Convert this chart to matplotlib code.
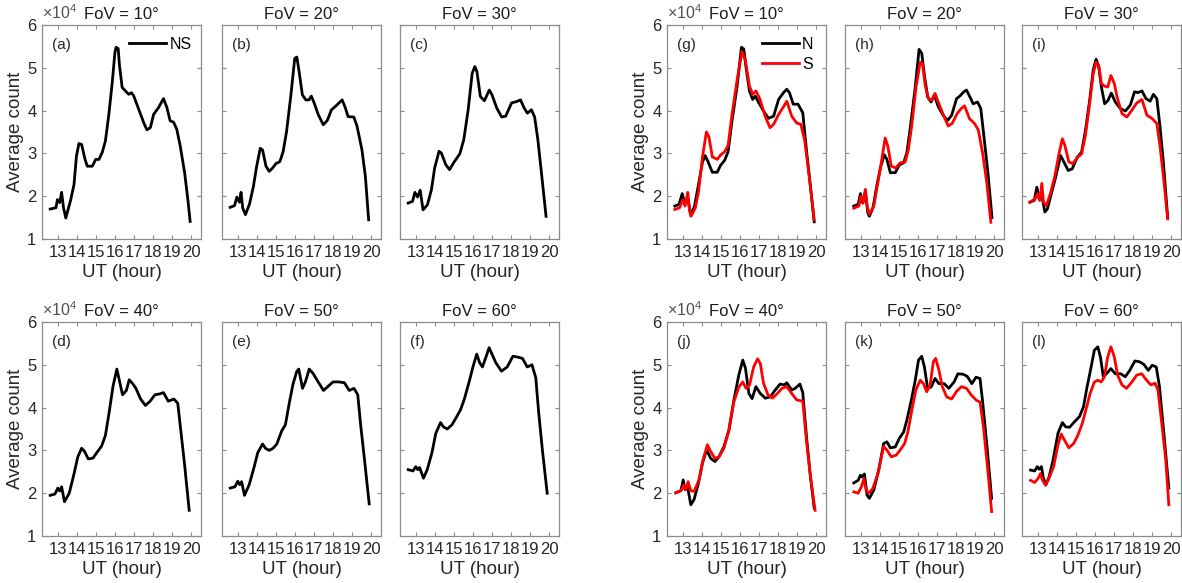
import matplotlib.pyplot as plt
from matplotlib import font_manager

plt.rcParams['font.family'] = ['Liberation Sans', 'DejaVu Sans']
plt.rcParams['mathtext.fontset'] = 'custom'
plt.rcParams['mathtext.rm'] = 'Liberation Sans'

# narrow face for tick labels if present
names = {f.name for f in font_manager.fontManager.ttflist}
NARROW = 'Liberation Sans Narrow' if 'Liberation Sans Narrow' in names else 'Liberation Sans'

fov = [10, 20, 30, 40, 50, 60]
letters_ns = ['a', 'b', 'c', 'd', 'e', 'f']
letters_sep = ['g', 'h', 'i', 'j', 'k', 'l']
x_ticks = [13, 14, 15, 16, 17, 18, 19, 20]
y_ticks = [1, 2, 3, 4, 5, 6]

# ---- combined NS curves (units of 1e4) ----
ut_a = [12.6, 12.9, 12.98, 13.1, 13.2, 13.3, 13.42, 13.68, 13.85, 13.98, 14.11, 14.25, 14.43, 14.55, 14.81,
        14.99, 15.16, 15.33, 15.5, 15.68, 15.86, 16.0, 16.06, 16.17, 16.24, 16.38, 16.55, 16.73, 16.87, 16.99,
        17.25, 17.51, 17.68, 17.86, 18.03, 18.29, 18.55, 18.73, 18.9, 19.08, 19.25, 19.43, 19.66, 19.83, 19.95]
ns_a = [1.70, 1.73, 1.92, 1.85, 2.09, 1.73, 1.49, 1.92, 2.27, 2.94, 3.23, 3.21, 2.86, 2.70, 2.70,
        2.86, 2.86, 3.02, 3.29, 3.91, 4.66, 5.36, 5.48, 5.45, 5.05, 4.54, 4.46, 4.38, 4.42, 4.34,
        4.03, 3.72, 3.55, 3.60, 3.91, 4.07, 4.28, 4.07, 3.76, 3.73, 3.56, 3.17, 2.55, 1.92, 1.41]

ut_b = [12.6, 12.83, 12.95, 13.09, 13.17, 13.26, 13.4, 13.61, 13.82, 13.99, 14.18, 14.3, 14.48, 14.65, 14.83,
        15.0, 15.21, 15.38, 15.56, 15.78, 15.99, 16.1, 16.22, 16.39, 16.57, 16.74, 16.86, 17.0, 17.23, 17.49,
        17.7, 17.92, 18.13, 18.48, 18.65, 18.79, 19.09, 19.26, 19.52, 19.7, 19.87]
ns_b = [1.74, 1.78, 1.98, 1.86, 2.09, 1.72, 1.57, 1.81, 2.23, 2.70, 3.12, 3.08, 2.70, 2.58, 2.66,
        2.76, 2.81, 3.04, 3.51, 4.33, 5.22, 5.25, 4.91, 4.37, 4.25, 4.25, 4.34, 4.19, 3.90, 3.67,
        3.77, 4.02, 4.10, 4.25, 4.06, 3.86, 3.85, 3.64, 3.08, 2.46, 1.45]

ut_c = [12.6, 12.83, 12.95, 13.09, 13.23, 13.38, 13.61, 13.82, 13.99, 14.22, 14.34, 14.57, 14.77, 15.0, 15.31,
        15.52, 15.75, 15.96, 16.1, 16.21, 16.39, 16.6, 16.86, 17.0, 17.25, 17.51, 17.72, 18.03, 18.29, 18.5,
        18.69, 18.86, 19.07, 19.24, 19.41, 19.58, 19.84]
ns_c = [1.84, 1.88, 2.09, 1.98, 2.14, 1.68, 1.80, 2.15, 2.66, 3.05, 3.01, 2.74, 2.62, 2.79, 2.99,
        3.32, 4.02, 4.87, 5.03, 4.91, 4.33, 4.23, 4.48, 4.37, 4.06, 3.85, 3.87, 4.18, 4.21, 4.25,
        4.06, 3.94, 4.02, 3.85, 3.32, 2.62, 1.53]

ut_d = [12.6, 12.85, 13.0, 13.1, 13.2, 13.35, 13.6, 13.85, 14.05, 14.25, 14.4, 14.6, 14.85, 15.05, 15.3,
        15.5, 15.7, 15.9, 16.1, 16.25, 16.4, 16.6, 16.75, 16.95, 17.1, 17.35, 17.6, 17.85, 18.1, 18.35,
        18.55, 18.8, 19.1, 19.3, 19.45, 19.65, 19.9]
ns_d = [1.95, 1.98, 2.12, 2.05, 2.15, 1.80, 2.0, 2.45, 2.85, 3.05, 2.98, 2.80, 2.82, 2.95, 3.10,
        3.35, 3.90, 4.50, 4.90, 4.60, 4.30, 4.40, 4.65, 4.55, 4.45, 4.20, 4.05, 4.15, 4.30, 4.32,
        4.35, 4.15, 4.20, 4.10, 3.50, 2.70, 1.60]

ut_e = [12.6, 12.85, 13.0, 13.1, 13.2, 13.35, 13.6, 13.85, 14.05, 14.3, 14.45, 14.65, 14.85, 15.05, 15.3,
        15.5, 15.7, 15.9, 16.1, 16.2, 16.4, 16.55, 16.75, 16.95, 17.15, 17.5, 17.75, 18.0, 18.3, 18.6,
        18.85, 19.1, 19.3, 19.45, 19.65, 19.9]
ns_e = [2.12, 2.15, 2.28, 2.20, 2.27, 1.95, 2.20, 2.60, 2.95, 3.15, 3.05, 3.00, 3.05, 3.15, 3.45,
        3.60, 4.10, 4.55, 4.85, 4.90, 4.45, 4.60, 4.90, 4.80, 4.65, 4.40, 4.50, 4.60, 4.60, 4.58,
        4.40, 4.45, 4.30, 3.60, 2.80, 1.75]

ut_f = [12.6, 12.85, 13.0, 13.1, 13.2, 13.4, 13.6, 13.85, 14.05, 14.3, 14.45, 14.65, 14.9, 15.1, 15.35,
        15.55, 15.8, 16.0, 16.2, 16.35, 16.5, 16.7, 16.85, 17.0, 17.2, 17.5, 17.8, 18.1, 18.35, 18.6,
        18.85, 19.1, 19.3, 19.45, 19.65, 19.9]
ns_f = [2.55, 2.52, 2.62, 2.55, 2.60, 2.35, 2.55, 2.95, 3.40, 3.65, 3.55, 3.50, 3.60, 3.75, 3.95,
        4.20, 4.60, 4.95, 5.25, 5.05, 4.95, 5.20, 5.40, 5.25, 5.05, 4.85, 4.95, 5.20, 5.18, 5.15,
        4.95, 5.00, 4.70, 3.90, 3.00, 2.00]

# ---- separate N / S curves (units of 1e4) ----
ut_g_n = [12.58, 12.8, 12.97, 13.09, 13.26, 13.4, 13.6, 13.8, 14.03, 14.17, 14.34, 14.55, 14.81, 14.98, 15.2,
          15.38, 15.59, 15.85, 16.08, 16.2, 16.32, 16.5, 16.67, 16.81, 16.98, 17.24, 17.5, 17.77, 18.03, 18.29,
          18.46, 18.6, 18.8, 19.05, 19.3, 19.5, 19.7, 19.9]
n_g = [1.77, 1.81, 2.06, 1.85, 1.97, 1.58, 1.74, 2.21, 2.79, 2.95, 2.79, 2.56, 2.56, 2.72, 2.84,
       3.04, 3.78, 4.56, 5.48, 5.44, 5.01, 4.46, 4.26, 4.34, 4.19, 3.99, 3.82, 3.87, 4.26, 4.42,
       4.50, 4.42, 4.15, 4.15, 3.95, 3.05, 2.25, 1.40]
ut_g_s = [12.58, 12.83, 13.0, 13.12, 13.26, 13.35, 13.43, 13.66, 13.83, 14.03, 14.24, 14.37, 14.55, 14.81, 14.98,
          15.2, 15.38, 15.59, 15.85, 16.11, 16.28, 16.5, 16.67, 16.84, 17.06, 17.32, 17.58, 17.77, 18.03, 18.29,
          18.46, 18.72, 18.98, 19.2, 19.4, 19.6, 19.9]
s_g = [1.69, 1.73, 1.92, 1.77, 2.09, 1.69, 1.53, 1.73, 2.12, 2.91, 3.50, 3.39, 2.92, 2.86, 2.96,
       3.04, 3.19, 3.93, 4.71, 5.38, 5.19, 4.57, 4.38, 4.46, 4.26, 3.87, 3.60, 3.68, 3.91, 4.09,
       4.22, 3.87, 3.71, 3.68, 3.30, 2.60, 1.45]

ut_h_n = [12.63, 12.86, 12.98, 13.1, 13.24, 13.37, 13.45, 13.64, 13.85, 14.03, 14.23, 14.37, 14.55, 14.81, 15.02,
          15.25, 15.42, 15.6, 15.86, 16.06, 16.2, 16.34, 16.51, 16.69, 16.86, 17.07, 17.33, 17.56, 17.77, 18.03,
          18.2, 18.41, 18.55, 18.73, 18.9, 19.13, 19.3, 19.47, 19.68, 19.89]
n_h = [1.77, 1.81, 2.06, 1.84, 2.11, 1.61, 1.53, 1.73, 2.27, 2.66, 2.97, 2.86, 2.55, 2.55, 2.73,
       2.78, 3.02, 3.61, 4.55, 5.43, 5.34, 4.83, 4.32, 4.20, 4.36, 4.09, 3.89, 3.77, 3.89, 4.28,
       4.34, 4.44, 4.48, 4.32, 4.16, 4.20, 4.05, 3.38, 2.53, 1.50]
ut_h_s = [12.63, 12.9, 13.0, 13.12, 13.24, 13.33, 13.45, 13.68, 13.85, 14.03, 14.28, 14.42, 14.6, 14.84, 15.07,
          15.33, 15.5, 15.68, 15.9, 16.12, 16.24, 16.38, 16.55, 16.72, 16.9, 17.1, 17.38, 17.59, 17.8, 18.07,
          18.28, 18.45, 18.71, 18.97, 19.17, 19.4, 19.62, 19.83]
s_h = [1.72, 1.77, 2.00, 1.84, 2.16, 1.77, 1.58, 1.77, 2.20, 2.66, 3.36, 3.17, 2.70, 2.66, 2.78,
       2.80, 3.09, 3.67, 4.55, 5.13, 5.10, 4.59, 4.28, 4.24, 4.40, 4.16, 3.85, 3.64, 3.70, 3.94,
       4.05, 4.11, 3.81, 3.70, 3.55, 3.00, 2.30, 1.39]

ut_i_n = [12.58, 12.81, 12.95, 13.07, 13.19, 13.37, 13.5, 13.73, 13.94, 14.2, 14.37, 14.6, 14.81, 15.07, 15.3,
          15.5, 15.72, 15.91, 16.06, 16.2, 16.34, 16.51, 16.69, 16.86, 17.07, 17.33, 17.6, 17.86, 18.08, 18.26,
          18.47, 18.68, 18.9, 19.07, 19.25, 19.42, 19.6, 19.82]
n_i = [1.86, 1.90, 2.21, 1.94, 2.06, 1.63, 1.70, 2.09, 2.45, 2.95, 2.80, 2.60, 2.64, 2.91, 3.03,
       3.53, 4.23, 4.95, 5.20, 5.02, 4.55, 4.16, 4.24, 4.41, 4.20, 4.05, 3.99, 4.13, 4.44, 4.42,
       4.46, 4.28, 4.22, 4.38, 4.28, 3.62, 2.76, 1.51]
ut_i_s = [12.58, 12.86, 12.98, 13.1, 13.21, 13.3, 13.45, 13.68, 13.9, 14.11, 14.29, 14.42, 14.63, 14.84, 15.07,
          15.3, 15.5, 15.72, 15.91, 16.06, 16.2, 16.34, 16.51, 16.67, 16.84, 17.02, 17.16, 17.42, 17.68, 17.94,
          18.2, 18.47, 18.73, 18.99, 19.25, 19.42, 19.6, 19.82]
s_i = [1.86, 1.94, 2.06, 1.90, 2.30, 1.86, 1.78, 2.09, 2.48, 2.99, 3.34, 3.19, 2.80, 2.76, 2.90,
       2.99, 3.42, 4.16, 4.86, 5.13, 5.06, 4.63, 4.57, 4.55, 4.82, 4.63, 4.32, 3.93, 3.85, 4.01,
       4.18, 4.26, 3.89, 3.82, 3.70, 3.16, 2.45, 1.47]

ut_j_n = [12.63, 12.9, 13.02, 13.12, 13.24, 13.42, 13.59, 13.82, 14.03, 14.25, 14.47, 14.69, 14.9, 15.16, 15.42,
          15.68, 15.94, 16.15, 16.29, 16.47, 16.64, 16.84, 17.07, 17.33, 17.59, 17.85, 18.11, 18.34, 18.46, 18.72,
          18.9, 19.15, 19.3, 19.5, 19.7, 19.9]
n_j = [2.01, 2.06, 2.31, 2.08, 2.17, 1.73, 1.85, 2.23, 2.70, 3.01, 2.81, 2.74, 2.85, 3.09, 3.47,
       4.17, 4.76, 5.11, 4.92, 4.33, 4.21, 4.49, 4.33, 4.22, 4.25, 4.41, 4.55, 4.53, 4.58, 4.41,
       4.45, 4.55, 4.35, 3.30, 2.40, 1.65]
ut_j_s = [12.63, 12.9, 13.07, 13.16, 13.28, 13.42, 13.59, 13.85, 14.06, 14.29, 14.47, 14.69, 14.9, 15.16, 15.42,
          15.68, 15.94, 16.15, 16.32, 16.5, 16.72, 16.93, 17.07, 17.24, 17.47, 17.71, 17.99, 18.2, 18.46, 18.72,
          18.98, 19.3, 19.5, 19.7, 19.95]
s_j = [2.01, 2.06, 2.19, 2.08, 2.27, 2.06, 2.04, 2.31, 2.78, 3.13, 2.97, 2.81, 2.85, 3.05, 3.47,
       4.13, 4.48, 4.60, 4.45, 4.52, 4.95, 5.14, 5.03, 4.57, 4.30, 4.22, 4.34, 4.45, 4.49, 4.33,
       4.18, 4.15, 3.20, 2.40, 1.60]

ut_k_n = [12.63, 12.86, 12.98, 13.07, 13.19, 13.33, 13.45, 13.68, 13.94, 14.2, 14.37, 14.55, 14.81, 15.02, 15.25,
          15.42, 15.65, 15.86, 16.03, 16.2, 16.34, 16.51, 16.69, 16.9, 17.1, 17.38, 17.62, 17.9, 18.1, 18.37,
          18.59, 18.83, 19.05, 19.26, 19.4, 19.63, 19.87]
n_k = [2.24, 2.30, 2.42, 2.38, 2.45, 1.95, 1.88, 2.07, 2.54, 3.16, 3.20, 3.06, 3.08, 3.28, 3.43,
       3.71, 4.17, 4.64, 5.11, 5.20, 4.95, 4.45, 4.48, 4.68, 4.56, 4.56, 4.45, 4.60, 4.79, 4.78,
       4.73, 4.56, 4.71, 4.68, 4.13, 3.08, 1.88]
ut_k_s = [12.63, 12.86, 13.03, 13.16, 13.28, 13.42, 13.63, 13.9, 14.2, 14.37, 14.6, 14.86, 15.07, 15.3, 15.47,
          15.68, 15.89, 16.12, 16.29, 16.46, 16.64, 16.81, 16.93, 17.1, 17.28, 17.51, 17.77, 18.03, 18.29, 18.55,
          18.81, 19.07, 19.26, 19.44, 19.67, 19.87]
s_k = [2.03, 2.00, 2.15, 2.34, 2.07, 2.00, 2.11, 2.46, 3.09, 3.01, 2.85, 2.89, 3.01, 3.16, 3.43,
       3.94, 4.41, 4.64, 4.56, 4.37, 4.53, 5.07, 5.15, 4.88, 4.49, 4.25, 4.20, 4.38, 4.49, 4.45,
       4.29, 4.17, 4.13, 3.55, 2.54, 1.57]

ut_l_n = [12.62, 12.84, 12.97, 13.07, 13.19, 13.28, 13.42, 13.59, 13.8, 14.06, 14.29, 14.46, 14.67, 14.93, 15.19,
          15.4, 15.59, 15.77, 15.97, 16.15, 16.29, 16.44, 16.62, 16.84, 17.07, 17.36, 17.59, 17.83, 18.1, 18.35,
          18.57, 18.8, 19.01, 19.22, 19.39, 19.62, 19.88]
n_l = [2.54, 2.52, 2.62, 2.56, 2.62, 2.38, 2.19, 2.38, 2.77, 3.40, 3.65, 3.55, 3.54, 3.67, 3.79,
       4.02, 4.49, 4.88, 5.34, 5.42, 5.18, 4.72, 4.80, 4.91, 4.79, 4.79, 4.72, 4.87, 5.09, 5.07,
       5.01, 4.87, 4.99, 4.95, 4.49, 3.40, 2.12]
ut_l_s = [12.62, 12.84, 13.02, 13.14, 13.24, 13.4, 13.59, 13.83, 14.06, 14.23, 14.4, 14.63, 14.88, 15.1, 15.33,
          15.54, 15.74, 15.97, 16.15, 16.33, 16.5, 16.67, 16.84, 17.02, 17.19, 17.42, 17.66, 17.94, 18.2, 18.46,
          18.71, 18.94, 19.16, 19.31, 19.49, 19.72, 19.88]
s_l = [2.30, 2.25, 2.35, 2.46, 2.31, 2.19, 2.35, 2.62, 3.13, 3.38, 3.24, 3.06, 3.16, 3.35, 3.62,
       3.97, 4.32, 4.60, 4.64, 4.60, 4.72, 5.18, 5.42, 5.18, 4.76, 4.53, 4.45, 4.60, 4.76, 4.79,
       4.64, 4.53, 4.57, 4.41, 3.71, 2.78, 1.73]

ns_series = [(ut_a, ns_a), (ut_b, ns_b), (ut_c, ns_c), (ut_d, ns_d), (ut_e, ns_e), (ut_f, ns_f)]
sep_series = [(ut_g_n, n_g, ut_g_s, s_g), (ut_h_n, n_h, ut_h_s, s_h), (ut_i_n, n_i, ut_i_s, s_i),
              (ut_j_n, n_j, ut_j_s, s_j), (ut_k_n, n_k, ut_k_s, s_k), (ut_l_n, n_l, ut_l_s, s_l)]

# ---- layout (pixels of a 1182x583 canvas) ----
W, H = 1182, 583
fig = plt.figure(figsize=(W / 100, H / 100), dpi=100)
col_left = [[42, 222, 400], [667, 845, 1022]]
row_top = [25, 322]
pw, ph = 159, 214
GREY = '#8c8c8c'
TXT = '#262626'


def new_axes(group, k, letter):
    r, c = divmod(k, 3)
    left, top = col_left[group][c], row_top[r]
    ax = fig.add_axes([left / W, 1 - (top + ph) / H, pw / W, ph / H])
    ax.set_xlim(12.17, 20.52)
    ax.set_ylim(1, 6)
    ax.set_xticks(x_ticks)
    ax.set_yticks(y_ticks)
    ax.tick_params(direction='in', top=True, right=True, length=3, width=0.8,
                   color=GREY, labelcolor=TXT, pad=4)
    for sp in ax.spines.values():
        sp.set_color(GREY)
        sp.set_linewidth(0.9)
    ax.set_xticklabels([str(t) for t in x_ticks], family=NARROW, fontsize=12)
    if c == 0:
        ax.set_yticklabels([str(t) for t in y_ticks], family=NARROW, fontsize=12)
        ax.set_ylabel('Average count', fontsize=13.5, color=TXT, labelpad=2)
        ax.text(0.0, 1.012, '×10$^{4}$', transform=ax.transAxes, fontsize=11.5,
                color='#505050', ha='left', va='bottom')
    else:
        ax.set_yticklabels([])
    ax.set_xlabel('UT (hour)', fontsize=13.5, color=TXT, family=NARROW, labelpad=3)
    ax.set_title(f'FoV = {fov[k]}°', fontsize=12, color='#1a1a1a', pad=4)
    ax.text(0.06, 0.905, f'({letter})', transform=ax.transAxes, fontsize=11,
            color=TXT, ha='left', va='center')
    return ax


for k in range(6):
    ax = new_axes(0, k, letters_ns[k])
    ut, v = ns_series[k]
    ax.plot(ut, v, color='black', lw=2.0, label='NS')
    if k == 0:
        ax.legend(loc='upper right', bbox_to_anchor=(0.98, 0.975), frameon=False,
                  fontsize=11.5, handlelength=2.3, handletextpad=0.2, borderaxespad=0)

for k in range(6):
    ax = new_axes(1, k, letters_sep[k])
    un, vn, us, vs = sep_series[k]
    ax.plot(un, vn, color='black', lw=2.0, label='N')
    ax.plot(us, vs, color='#ff0000', lw=2.0, label='S')
    if k == 0:
        ax.legend(loc='upper right', bbox_to_anchor=(0.96, 0.975), frameon=False,
                  fontsize=11.5, handlelength=2.3, handletextpad=0.2, borderaxespad=0,
                  labelspacing=0.3)

fig.savefig('out.png', dpi=100, facecolor='white')
